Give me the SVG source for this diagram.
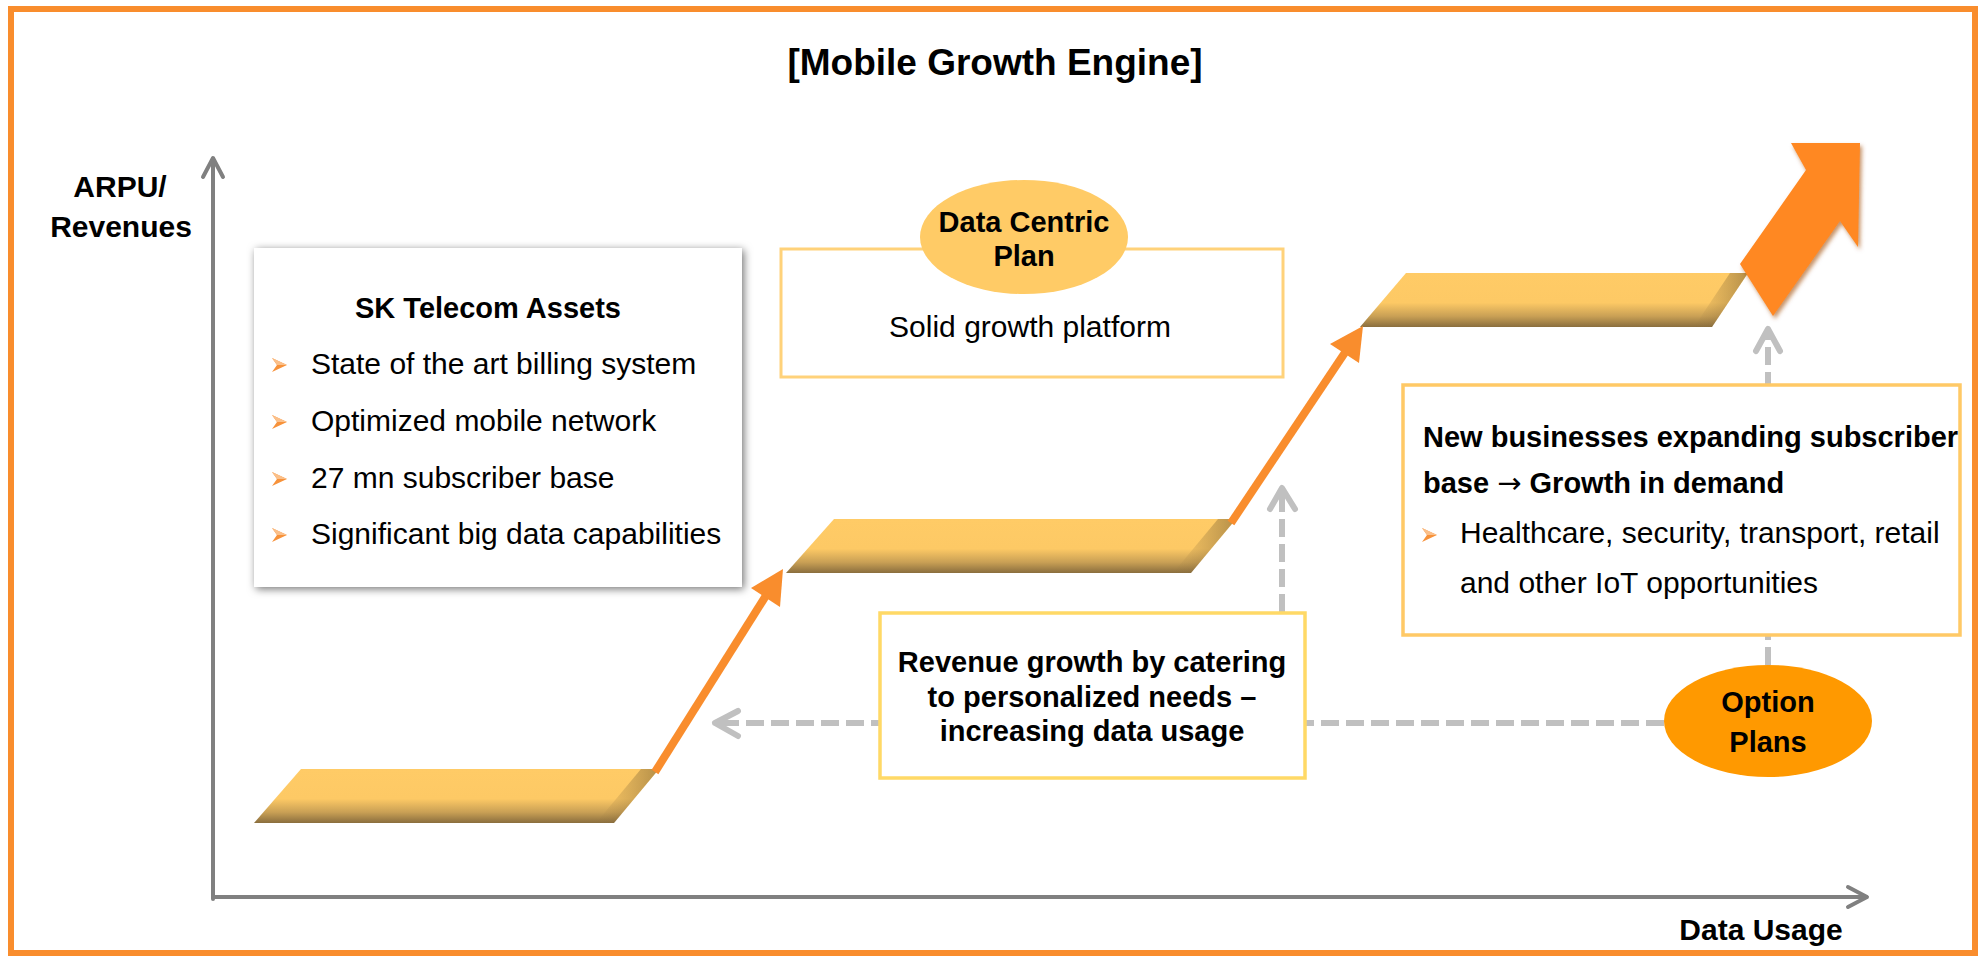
<svg xmlns="http://www.w3.org/2000/svg" width="1983" height="957" viewBox="0 0 1983 957">
  <defs>
    <style>
      text { font-family: "Liberation Sans", Arial, sans-serif; fill: #000; }
      .title { font-size: 37px; font-weight: bold; }
      .lab { font-size: 30px; font-weight: bold; }
      .hb { font-size: 29px; font-weight: bold; }
      .tx { font-size: 30px; }
      .sym { font-family: "DejaVu Sans", sans-serif; font-weight: normal; }
      .axis { stroke: #808080; stroke-width: 4; fill: none; stroke-linecap: round; stroke-linejoin: round; }
      .dash { stroke: #C0C0C0; stroke-width: 6; fill: none; stroke-dasharray: 18 7; }
      .chev { stroke: #C0C0C0; stroke-width: 6; fill: none; stroke-linecap: round; stroke-linejoin: round; }
      .orl { stroke: #F98D2D; stroke-width: 8; fill: none; }
      .orh { fill: #F98D2D; }
      .step { fill: url(#stepGrad); }
      .edge { fill: url(#edgeGrad); }
      .bul { fill: #F7923A; }
      .bulhi { fill: #FBC08A; }
    </style>
    <linearGradient id="stepGrad" x1="0" y1="0" x2="0" y2="1">
      <stop offset="0" stop-color="#FFCB66"/>
      <stop offset="0.55" stop-color="#FDC965"/>
      <stop offset="0.8" stop-color="#C9A055"/>
      <stop offset="1" stop-color="#8A6E3E"/>
    </linearGradient>
    <linearGradient id="edgeGrad" x1="0" y1="0" x2="1" y2="0">
      <stop offset="0" stop-color="#8A6E3E" stop-opacity="0"/>
      <stop offset="1" stop-color="#7A5F30" stop-opacity="0.55"/>
    </linearGradient>
    <filter id="shadow" x="-10%" y="-10%" width="120%" height="120%">
      <feDropShadow dx="2" dy="2" stdDeviation="4" flood-color="#000" flood-opacity="0.55"/>
    </filter>
    <filter id="arrowShade" x="-20%" y="-20%" width="140%" height="140%">
      <feDropShadow dx="2" dy="3" stdDeviation="2" flood-color="#A04A00" flood-opacity="0.6"/>
    </filter>
  </defs>

  <rect x="0" y="0" width="1983" height="957" fill="#FFFFFF"/>
  <rect id="frame" x="11" y="9" width="1964" height="944" fill="none" stroke="#F98D2D" stroke-width="6"/>

  <g id="title">
    <text class="title" x="995" y="75" text-anchor="middle">[Mobile Growth Engine]</text>
  </g>

  <g id="connectors">
    <line class="axis" x1="213" y1="899" x2="213" y2="159"/>
    <polyline class="axis" points="203,177 213,158 223,177"/>
    <line class="axis" x1="213" y1="897" x2="1866" y2="897"/>
    <polyline class="axis" points="1848,887 1867,897 1848,907"/>

    <line class="dash" x1="1664" y1="723" x2="718" y2="723"/>
    <polyline class="chev" points="738,711 715,723 738,736"/>
    <line class="dash" x1="1282" y1="612" x2="1282" y2="491"/>
    <polyline class="chev" points="1270,509 1282,488 1295,509"/>
    <line class="dash" x1="1768" y1="665" x2="1768" y2="332"/>
    <polyline class="chev" points="1756,351 1768,329 1780,351"/>
  </g>

  <g id="step1">
    <polygon class="step" points="301,769 659,769 614,823 254,823"/>
    <polygon class="edge" points="641,769 659,769 614,823 596,823"/>
  </g>
  <g id="step2">
    <polygon class="step" points="834,519 1236,519 1191,573 786,573"/>
    <polygon class="edge" points="1218,519 1236,519 1191,573 1173,573"/>
  </g>
  <g id="step3">
    <polygon class="step" points="1406,273 1748,273 1712,327 1360,327"/>
    <polygon class="edge" points="1730,273 1748,273 1712,327 1694,327"/>
  </g>

  <g id="growth-arrows">
    <line class="orl" x1="655" y1="772" x2="767" y2="594"/>
    <polygon class="orh" points="783,569 780,607 751,588"/>
    <line class="orl" x1="1231" y1="523" x2="1346" y2="351"/>
    <polygon class="orh" points="1363,326 1359,363 1330,344"/>
  </g>

  <g id="big-arrow">
    <polygon points="1740,264 1806,170 1791,143 1860,143 1858,247 1840,221 1773,316" fill="#FF8822" filter="url(#arrowShade)"/>
  </g>

  <g id="axis-labels">
    <text class="lab" x="120" y="197" text-anchor="middle">ARPU/</text>
    <text class="lab" x="121" y="237" text-anchor="middle">Revenues</text>
    <text class="lab" x="1761" y="940" text-anchor="middle">Data Usage</text>
  </g>

  <g id="sk-assets">
    <rect x="254" y="248" width="488" height="339" fill="#FFFFFF" filter="url(#shadow)"/>
    <text class="hb" x="488" y="318" text-anchor="middle">SK Telecom Assets</text>
    <polygon class="bul" points="272,358 287,365 272,372 277,365"/>
    <polygon class="bulhi" points="272,358 287,365 277,365"/>
    <text class="tx" x="311" y="374">State of the art billing system</text>
    <polygon class="bul" points="272,415 287,422 272,429 277,422"/>
    <polygon class="bulhi" points="272,415 287,422 277,422"/>
    <text class="tx" x="311" y="431">Optimized mobile network</text>
    <polygon class="bul" points="272,472 287,479 272,486 277,479"/>
    <polygon class="bulhi" points="272,472 287,479 277,479"/>
    <text class="tx" x="311" y="488">27 mn subscriber base</text>
    <polygon class="bul" points="272,528 287,535 272,542 277,535"/>
    <polygon class="bulhi" points="272,528 287,535 277,535"/>
    <text class="tx" x="311" y="544">Significant big data capabilities</text>
  </g>

  <g id="data-centric">
    <rect x="781" y="249" width="502" height="128" fill="#FFFFFF" stroke="#FFD27A" stroke-width="3"/>
    <ellipse cx="1024" cy="237" rx="104" ry="57" fill="#FFCB66"/>
    <text class="hb" x="1024" y="232" text-anchor="middle">Data Centric</text>
    <text class="hb" x="1024" y="266" text-anchor="middle">Plan</text>
    <text class="tx" x="1030" y="337" text-anchor="middle">Solid growth platform</text>
  </g>

  <g id="revenue-growth">
    <rect x="880" y="613" width="425" height="165" fill="#FFFFFF" stroke="#FFD966" stroke-width="3.5"/>
    <text class="hb" x="1092" y="672" text-anchor="middle">Revenue growth by catering</text>
    <text class="hb" x="1092" y="707" text-anchor="middle">to personalized needs –</text>
    <text class="hb" x="1092" y="741" text-anchor="middle">increasing data usage</text>
  </g>

  <g id="new-businesses">
    <rect x="1403" y="385" width="557" height="250" fill="#FFFFFF" stroke="#FFC966" stroke-width="3.5"/>
    <text class="hb" x="1423" y="447">New businesses expanding subscriber</text>
    <text class="hb" x="1423" y="493">base <tspan class="sym">→</tspan> Growth in demand</text>
    <polygon class="bul" points="1422,528 1437,535 1422,542 1427,535"/>
    <polygon class="bulhi" points="1422,528 1437,535 1427,535"/>
    <text class="tx" x="1460" y="543">Healthcare, security, transport, retail</text>
    <text class="tx" x="1460" y="593">and other IoT opportunities</text>
  </g>

  <g id="option-plans">
    <ellipse cx="1768" cy="721" rx="104" ry="56" fill="#FF9900"/>
    <text class="hb" x="1768" y="712" text-anchor="middle">Option</text>
    <text class="hb" x="1768" y="752" text-anchor="middle">Plans</text>
  </g>
</svg>
